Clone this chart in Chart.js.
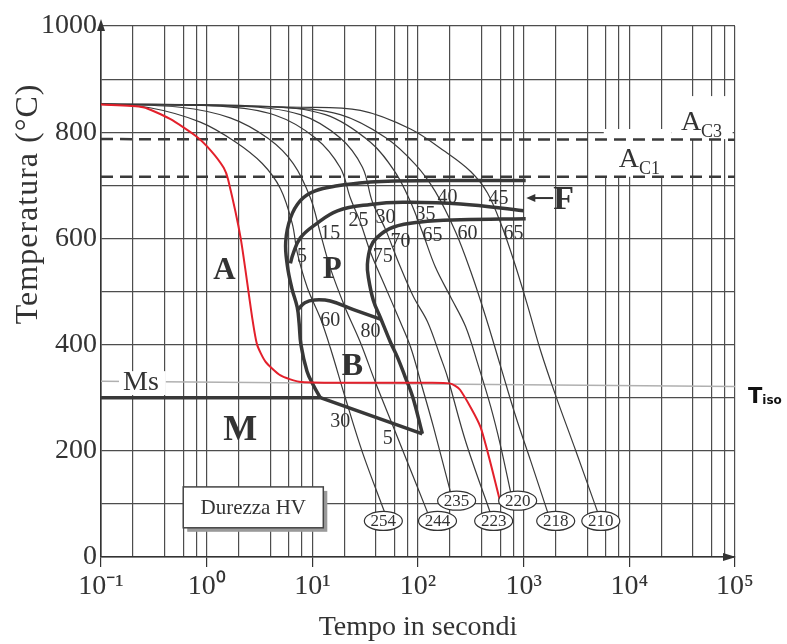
<!DOCTYPE html>
<html><head><meta charset="utf-8">
<script src="https://cdn.jsdelivr.net/npm/chart.js@4.4.1/dist/chart.umd.min.js"></script>
<style>html,body{margin:0;padding:0;background:#fff;}canvas{display:block;}</style>
</head><body>
<canvas id="c" width="787" height="644"></canvas>
<script>
// ---- axes / ticks ----
const gridTimes = [0.1,0.2,0.4,0.6,0.8,1,2,4,6,8,10,20,40,60,80,100,200,400,600,800,1000,2000,4000,6000,8000,10000,20000,40000,60000,80000,100000];
const decadeTimes = [0.1,1,10,100,1000,10000,100000];
const decadeLabels = ['10⁻¹','10⁰','10¹','10²','10³','10⁴','10⁵'];
const tempGrid = [0,100,200,300,400,500,600,700,800,900,1000];
const tempLabels = [0,200,400,600,800,1000];

// ---- series: [time s, temperature °C] ----
const redPath = [[0.1,852],[0.25,847],[0.45,825],[0.8,792],[1.1,765],[1.45,733],[1.6,710],[2.1,600],[2.7,450],[3.0,400],[3.6,368],[5.0,342],[7.5,330],[20,328],[100,328],[200,327],[250,315],[390,245],[600,104]];
const curveA = [[0.1,853],[0.29,846],[0.87,819],[1.86,782],[3.36,741],[4.98,694],[6.46,628],[7.2,573],[8.97,507],[11.9,450],[14.8,394],[20.5,300],[29.8,197],[49.2,80]];
const curveB = [[0.1,853],[0.56,847],[1.67,827],[3.83,788],[6.6,741],[9.6,676],[11.9,610],[14.8,544],[20.5,469],[28.5,404],[39.5,329],[61.2,235],[123,84]];
const curveC = [[0.1,853],[1.34,849],[4.46,832],[10.7,789],[18.4,733],[22.9,676],[28.5,630],[35.5,574],[49.2,508],[65.3,451],[84.9,396],[106,330],[140,245],[203,122]];
const curveD = [[0.1,853],[2.08,849],[7.7,833],[18.4,789],[29.8,734],[37.1,668],[49.2,617],[65.3,555],[90.6,490],[123,443],[163,377],[190,339],[282,218],[486,82]];
const curveE = [[0.1,853],[3.2,849],[13.3,833],[35.5,781],[61.2,724],[84.9,669],[110,612],[146,546],[203,490],[282,434],[374,359],[486,284],[605,209],[753,122]];
const curveF = [[0.1,853],[4.98,847],[18.4,833],[49.2,790],[94.7,739],[146,688],[227,612],[315,538],[436,453],[605,359],[840,265],[1165,181],[1688,84]];
const curveG = [[0.1,853],[7.7,847],[28.5,841],[84.9,806],[182,763],[315,726],[456,685],[632,619],[840,547],[1091,473],[1449,388],[2010,304],[3112,200],[5025,84]];
const ferriteStart = [[1045,709],[253,709],[60,708],[35.5,706],[17.3,699],[10.5,689],[7.7,671],[6.2,638],[5.6,594],[5.8,549],[6.4,506],[7.2,470],[7.5,440],[7.8,400],[8.9,350],[10.2,324],[11.9,300]];
const pearliteStart = [[1000,652],[253,665],[72,668],[35.5,664],[17.3,652],[10.5,625],[7.7,601],[6.6,572],[6.2,553]];
const pearliteEnd = [[1045,637],[253,635],[106,631],[58,621],[41,602],[35.5,583],[33.2,551],[33.9,527],[37.8,483],[44,451],[55,404],[64,376],[76,338],[89,302],[110,232]];
const bainiteStart = [[7.3,466],[8.5,479],[10.5,484],[14.8,482],[24.5,466],[44,448]];
const martensiteLine = [[0.1,300],[11.9,300],[110,232]];
const ac3Line = [[0.1,787],[100000,786]];
const ac1Line = [[0.1,716],[100000,716]];
const msLine = [[0.1,331],[100000,321]];

// hardness HV at end of cooling curves
const hardLabels = ['254','244','235','223','220','218','210'];
const hardTime = [47,153,232,520,877,2010,5370];
const hardTemp = [68,68,106,68,106,68,68];

// % of phase formed (annotations along curves)
const pctText = ['5','15','25','30','35','40','45','75','70','65','60','65','60','80','30','5'];
const pctTime = [8.0,14.8,27.3,49.2,118,190,579,46.5,68.2,137,294,803,14.8,35.5,18.4,51.6];
const pctTemp = [565,608,634,638,644,676,674,566,594,605,608,608,445,425,254,223];

const SERIF = '"Liberation Serif", "Times New Roman", serif';
const INK = '#333';
const toXY = a => a.map(p => ({x:p[0], y:p[1]}));
function ds(label, pts, color, width, tension, dash){
  return {label, data:toXY(pts), borderColor:color, borderWidth:width, pointRadius:0, fill:false,
          tension, borderDash:dash||[], borderCapStyle:'butt', borderJoinStyle:'round'};
}
const isDecade = v => decadeTimes.some(d => Math.abs(v-d)/d < 1e-6);

const annot = {
  id:'annot',
  beforeDatasetsDraw(chart){
    const {ctx, scales:{x,y}} = chart;
    ctx.save();
    ctx.fillStyle = '#fff';
    // white patches behind A_C labels
    let x0=x.getPixelForValue(5730), x1=x.getPixelForValue(25000);
    ctx.fillRect(x0, y.getPixelForValue(806), x1-x0, y.getPixelForValue(716)-y.getPixelForValue(806));
    let x2=x.getPixelForValue(95000);
    ctx.fillRect(x1, y.getPixelForValue(868), x2-x1, y.getPixelForValue(787)-y.getPixelForValue(868));
    ctx.restore();
  },
  afterDatasetsDraw(chart){
    const {ctx, scales:{x,y}} = chart;
    const X = v => x.getPixelForValue(v), Y = v => y.getPixelForValue(v);
    ctx.save();
    // Ms label patch
    ctx.fillStyle = '#fff';
    ctx.fillRect(X(0.148), Y(350), X(0.41)-X(0.148), Y(305)-Y(350));
    // Durezza HV box
    const bx = X(0.6), by = Y(132), bw = X(12.7)-X(0.6), bh = Y(55)-Y(132);
    ctx.fillStyle = '#9a9a9a'; ctx.fillRect(bx+4, by+4, bw, bh);
    ctx.fillStyle = '#fff'; ctx.fillRect(bx, by, bw, bh);
    ctx.strokeStyle = '#444'; ctx.lineWidth = 1.5; ctx.strokeRect(bx, by, bw, bh);
    ctx.fillStyle = INK; ctx.textAlign='center'; ctx.textBaseline='middle';
    ctx.font = '21px ' + SERIF;
    ctx.fillText('Durezza HV', bx+bw/2, by+bh/2+1);
    // hardness ovals
    ctx.font = '17px ' + SERIF;
    hardLabels.forEach((s,i) => {
      const cx = X(hardTime[i]), cy = Y(hardTemp[i]);
      ctx.beginPath(); ctx.ellipse(cx, cy, 19, 9.5, 0, 0, Math.PI*2);
      ctx.fillStyle='#fff'; ctx.fill(); ctx.strokeStyle='#333'; ctx.lineWidth=1.2; ctx.stroke();
      ctx.fillStyle=INK; ctx.fillText(s, cx, cy+1);
    });
    // percentage labels
    ctx.font = '20px ' + SERIF;
    pctText.forEach((s,i) => ctx.fillText(s, X(pctTime[i]), Y(pctTemp[i])));
    // region letters
    ctx.font = 'bold 31px ' + SERIF;
    ctx.fillText('A', X(1.47), Y(539));
    ctx.fillText('P', X(15.4), Y(541));
    ctx.font = 'bold 32px ' + SERIF;
    ctx.fillText('B', X(23.9), Y(359));
    ctx.font = 'bold 36px ' + SERIF;
    ctx.fillText('M', X(2.08), Y(238));
    ctx.font = 'bold 34px ' + SERIF;
    ctx.fillText('F', X(2394), Y(671));
    // arrow to F
    const ay = Y(676), ax0 = X(1900), ax1 = X(1060);
    ctx.strokeStyle='#333'; ctx.lineWidth=2;
    ctx.beginPath(); ctx.moveTo(ax0, ay); ctx.lineTo(ax1+6, ay); ctx.stroke();
    ctx.fillStyle='#333'; ctx.beginPath(); ctx.moveTo(ax1, ay); ctx.lineTo(ax1+9, ay-4); ctx.lineTo(ax1+9, ay+4); ctx.closePath(); ctx.fill();
    // Ms
    ctx.font = '28px ' + SERIF;
    ctx.fillText('Ms', X(0.239), Y(328));
    // A_C3 / A_C1
    ctx.textAlign='left'; ctx.textBaseline='alphabetic';
    const sub = (big, small, t, T) => {
      ctx.font = '28px ' + SERIF; const px = X(t), pyy = Y(T);
      ctx.fillText(big, px, pyy);
      const w = ctx.measureText(big).width;
      ctx.font = '18px ' + SERIF; ctx.fillText(small, px+w, pyy+7);
    };
    sub('A','C3', 30760, 804);
    sub('A','C1', 7940, 735);
    ctx.restore();
  },
  afterDraw(chart){
    const {ctx, chartArea:ca, scales:{x,y}} = chart;
    ctx.save();
    ctx.fillStyle = '#333';
    // axis arrows
    ctx.beginPath(); ctx.moveTo(ca.left, ca.top-7); ctx.lineTo(ca.left-4, ca.top+5); ctx.lineTo(ca.left+4, ca.top+5); ctx.closePath(); ctx.fill();
    ctx.beginPath(); ctx.moveTo(ca.right+1, ca.bottom); ctx.lineTo(ca.right-12, ca.bottom-4); ctx.lineTo(ca.right-12, ca.bottom+4); ctx.closePath(); ctx.fill();
    // y title
    ctx.translate(29, y.getPixelForValue(665));
    ctx.rotate(-Math.PI/2);
    ctx.textAlign='center'; ctx.textBaseline='middle';
    ctx.font = '32px ' + SERIF;
    if ('letterSpacing' in ctx) ctx.letterSpacing = '1px';
    ctx.fillText('Temperatura (°C)', 0, 0);
    ctx.restore();
    // T_iso
    ctx.save();
    ctx.fillStyle='#111'; ctx.textAlign='left'; ctx.textBaseline='alphabetic';
    const tx = ca.right + 13, ty = y.getPixelForValue(300) + 5;
    ctx.font = 'bold 21px "DejaVu Sans", sans-serif';
    ctx.fillText('T', tx, ty);
    const w = ctx.measureText('T').width;
    ctx.font = 'bold 12px "DejaVu Sans", sans-serif';
    ctx.fillText('iso', tx+w, ty+1);
    ctx.restore();
  }
};

new Chart(document.getElementById('c'), {
  type:'line',
  data:{ datasets:[
    ds('Raffreddamento (rosso)', redPath, '#e3202b', 2, 0.2),
    ds('Ms / M', martensiteLine, '#383838', 3.5, 0),
    ds('Inizio ferrite', ferriteStart, '#383838', 3.5, 0.4),
    ds('Inizio perlite', pearliteStart, '#383838', 3.5, 0.4),
    ds('Fine perlite', pearliteEnd, '#383838', 3.5, 0.4),
    ds('Inizio bainite', bainiteStart, '#383838', 3.5, 0.4),
    ds('254', curveA, '#3a3a3a', 1.2, 0.35),
    ds('244', curveB, '#3a3a3a', 1.2, 0.35),
    ds('235', curveC, '#3a3a3a', 1.2, 0.35),
    ds('223', curveD, '#3a3a3a', 1.2, 0.35),
    ds('220', curveE, '#3a3a3a', 1.2, 0.35),
    ds('218', curveF, '#3a3a3a', 1.2, 0.35),
    ds('210', curveG, '#3a3a3a', 1.2, 0.35),
    ds('Ac3', ac3Line, '#3a3a3a', 2.5, 0, [12,7]),
    ds('Ac1', ac1Line, '#3a3a3a', 2.5, 0, [12,7]),
    ds('Ms', msLine, '#b0b0b0', 1.6, 0)
  ]},
  options:{
    responsive:false, animation:false, devicePixelRatio:1,
    layout:{ padding:{ top:26, right:52, left:0, bottom:0 } },
    plugins:{ legend:{display:false}, tooltip:{enabled:false}, title:{display:false} },
    scales:{
      x:{ type:'logarithmic', min:0.1, max:100000,
        afterBuildTicks: s => { s.ticks = gridTimes.map(v => ({value:v})); },
        afterFit: s => { s.height = 87; },
        ticks:{ autoSkip:false, maxRotation:0, minRotation:0, padding:3, color:INK,
          font:{family:SERIF, size:28},
          callback:(v) => { const k = decadeTimes.findIndex(d => Math.abs(v-d)/d < 1e-6); return k >= 0 ? decadeLabels[k] : ''; } },
        grid:{ color:'#4d4d4d', lineWidth:1.2, drawTicks:true, tickLength:10,
          tickColor: c => (c.tick && isDecade(c.tick.value)) ? '#333' : 'rgba(0,0,0,0)' },
        border:{ color:'#333', width:1.6 },
        title:{ display:true, text:'Tempo in secondi', color:INK, font:{family:SERIF, size:28}, padding:{top:0, bottom:0} }
      },
      y:{ min:0, max:1000,
        afterBuildTicks: s => { s.ticks = tempGrid.map(v => ({value:v})); },
        afterFit: s => { s.width = 101; },
        ticks:{ padding:4, color:INK, font:{family:SERIF, size:28},
          callback: v => tempLabels.includes(v) ? String(v) : '' },
        grid:{ color:'#4d4d4d', lineWidth:1.2, drawTicks:false },
        border:{ color:'#333', width:1.6 }
      }
    }
  },
  plugins:[annot]
});
</script>
</body></html>
